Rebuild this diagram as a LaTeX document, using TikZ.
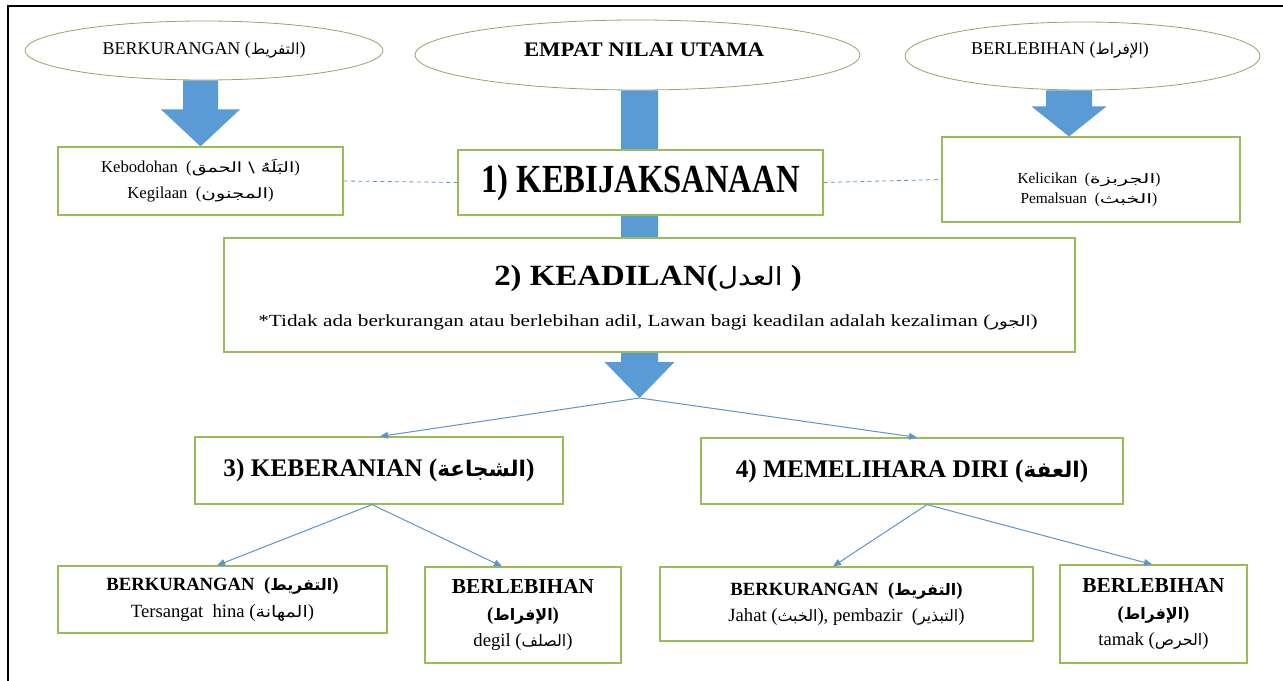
\documentclass[tikz,border=0pt]{standalone}
\usepackage{graphicx}
\usepackage{fontspec}
\setmainfont{Liberation Serif}
\newfontfamily\arabicfont[Script=Arabic,Scale=0.85]{DejaVu Sans}
\TeXXeTstate=1
\usetikzlibrary{shapes.geometric,arrows.meta,calc,backgrounds}
\newdimen\pxu \pxu=0.75pt
\newcommand\ar[2][1]{{\arabicfont\scalebox{#1}[1]{\beginR #2\endR}}}
\newcommand\fs[2]{\fontsize{#1}{#2}\selectfont}
\definecolor{boxgreen}{HTML}{9BBB59}
\definecolor{ellgreen}{HTML}{8EA86A}
\definecolor{arrowblue}{HTML}{5B9BD5}
\definecolor{linkblue}{HTML}{5D95C9}
\tikzset{
  x=0.75pt, y=-0.75pt,
  sz/.style 2 args={minimum width=#1*\pxu, minimum height=#2*\pxu},
  box/.style={draw=boxgreen, line width=0.9pt, fill=white, inner sep=0pt, align=center},
  ell/.style={ellipse, draw=ellgreen, line width=0.6pt, fill=white, inner sep=0pt, align=center},
  txt/.style={align=center, inner sep=0pt},
  barrow/.style={fill=arrowblue},
  link/.style={draw=linkblue, line width=0.75pt, -{Triangle[length=6pt,width=5pt]}},
  dashlink/.style={draw=linkblue, line width=0.6pt, dash pattern=on 3pt off 2.5pt},
  frame/.style={draw=black, line width=1.5pt},
}
\newcommand\blockarr[5]{%
  \fill[barrow] let \p1=(#1), \p2=(#2) in
    (\x2-#3*\pxu,\y1) -- (\x2+#3*\pxu,\y1) -- (\x2+#3*\pxu,\y2+#5*\pxu)
    -- (\x2+#4*\pxu,\y2+#5*\pxu) -- (\x2,\y2) -- (\x2-#4*\pxu,\y2+#5*\pxu)
    -- (\x2-#3*\pxu,\y2+#5*\pxu) -- cycle;}
\begin{document}
\begin{tikzpicture}
\useasboundingbox (0,0) rectangle (1283,681);

% top row ellipses
\node[ell, sz={358}{59}, font=\fs{13.5pt}{16pt}] (e1) at (204,50.5) {BERKURANGAN (\ar{التفريط})};
\node[ell, sz={445}{70}] (e2) at (637.5,55) {};
\node[txt, font=\bfseries\fs{15.5pt}{18pt}] (te2) at (644,50) {\scalebox{1.1}[1]{EMPAT NILAI UTAMA}};
\node[ell, sz={355}{68}] (e3) at (1082.5,56) {};
\node[txt, font=\fs{13.5pt}{16pt}] (te3) at (1060,50) {BERLEBIHAN (\ar{الإفراط})};

% second row boxes
\node[box, sz={285}{68}, font=\fs{12.5pt}{19.5pt}] (bL) at (200.5,181)
  {Kebodohan~ (\ar[1.35]{البَلَهُ \textbackslash{} الحمق})\\Kegilaan~ (\ar[1.4]{المجنون})};
\node[box, sz={365}{65}, font=\bfseries\fs{24.5pt}{28pt}] (b1) at (640.5,182.5) {\scalebox{1}[1.22]{1) KEBIJAKSANAAN}};
\node[box, sz={298}{85}] (bR) at (1091,179.5) {};
\node[txt, font=\fs{11.5pt}{15pt}] (tR) at (1089,190) {Kelicikan~ (\ar[1.6]{الجربزة})\\Pemalsuan~ (\ar[1.6]{الخبث})};

% keadilan
\node[box, sz={851}{114}] (b2) at (649.5,295) {};
\node[txt, font=\bfseries\fs{22pt}{26pt}] (t2) at (648,278) {\scalebox{1.12}[1]{2) KEADILAN({\mdseries\ar{العدل}} )}};
\node[txt, font=\fs{12.75pt}{15pt}] (n2) at (648,322)
  {\scalebox{1.25}[1]{*Tidak ada berkurangan atau berlebihan adil, Lawan bagi keadilan adalah kezaliman (\ar{الجور})}};

% third row
\node[box, sz={368}{67}, font=\bfseries\fs{19pt}{22pt}] (b3) at (379,470.5) {3) KEBERANIAN (\ar{الشجاعة})};
\node[box, sz={422}{66}, font=\bfseries\fs{19pt}{22pt}] (b4) at (912,471) {4) MEMELIHARA DIRI (\ar{العفة})};

% bottom row
\node[box, sz={329}{67}, font=\fs{14pt}{20pt}] (L1) at (222.5,599.5)
  {{\bfseries BERKURANGAN~ (\ar{التفريط})}\\Tersangat~ hina (\ar[1.2]{المهانة})};
\node[box, sz={196}{96}, font=\fs{14pt}{20pt}] (L2) at (523,615)
  {{\bfseries\fs{16pt}{20pt}BERLEBIHAN}\\{\bfseries(\ar{الإفراط})}\\degil (\ar{الصلف})};
\node[box, sz={373}{74}, font=\fs{14pt}{20pt}] (R1) at (846.5,604)
  {{\bfseries BERKURANGAN~ (\ar{التفريط})}\\Jahat (\ar{الخبث}), pembazir~ (\ar{التبذير})};
\node[box, sz={187}{98}, font=\fs{14pt}{20pt}] (R2) at (1153.5,614)
  {{\bfseries\fs{16pt}{20pt}BERLEBIHAN}\\{\bfseries(\ar{الإفراط})}\\tamak (\ar{الحرص})};

\coordinate (tip) at (639.5,398);

% block arrows behind
\begin{pgfonlayer}{background}
\fill[white] (0,0) rectangle (1283,681);
\blockarr{e1.south}{bL.north}{17.5}{39.5}{37}
\blockarr{e2.south}{tip}{18.5}{35}{36}
\blockarr{e3.south}{$(bR.north)+(-22,0)$}{23}{37.5}{30}
\end{pgfonlayer}

% dashed links
\draw[dashlink] (bL.east) -- (b1.west);
\draw[dashlink] (b1.east) -- (bR.west);

% thin arrows
\draw[link] (tip) -- ($(b3.north)+(1,0)$);
\draw[link] (tip) -- ($(b4.north)+(5,0)$);
\draw[link] ($(b3.south)+(-7,0)$) -- ($(L1.north)+(-5.5,0)$);
\draw[link] ($(b3.south)+(-7,0)$) -- ($(L2.north)+(-21,0)$);
\draw[link] ($(b4.south)+(15,0)$) -- ($(R1.north)+(-13.5,0)$);
\draw[link] ($(b4.south)+(15,0)$) -- ($(R2.north)+(-1.5,0)$);

% frame
\draw[frame] (8,681) -- (8,6) -- (1283,6);
\end{tikzpicture}
\end{document}
